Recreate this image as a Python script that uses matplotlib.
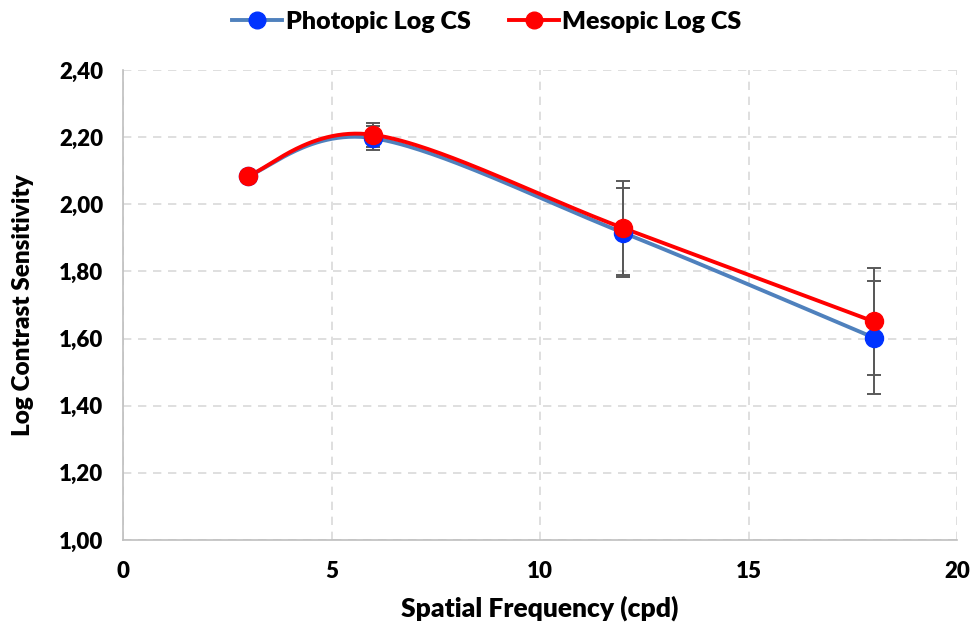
import numpy as np
import matplotlib
matplotlib.use("Agg")
import matplotlib.pyplot as plt
from matplotlib.ticker import FuncFormatter

freq = [3, 6, 12, 18]
photopic = [2.085, 2.197, 1.915, 1.603]
photopic_err = [0.0, 0.035, 0.133, 0.168]
mesopic = [2.085, 2.207, 1.929, 1.651]
mesopic_err = [0.0, 0.035, 0.140, 0.160]

x_ticks = [0, 5, 10, 15, 20]
y_ticks = [1.0, 1.2, 1.4, 1.6, 1.8, 2.0, 2.2, 2.4]

plt.rcParams['font.family'] = ['Lato', 'DejaVu Sans']
WEIGHT = 'heavy'


def smooth(xs, ys, n=60):
    P = np.column_stack([xs, ys]).astype(float)
    m = len(P)
    out = []
    for i in range(m - 1):
        pm = P[max(i - 1, 0)]
        p0 = P[i]
        p1 = P[i + 1]
        p2 = P[min(i + 2, m - 1)]
        b0 = p0
        b1 = p0 + (p1 - pm) / 6.0
        b2 = p1 - (p2 - p0) / 6.0
        b3 = p1
        t = np.linspace(0, 1, n)[:, None]
        seg = ((1 - t) ** 3) * b0 + 3 * ((1 - t) ** 2) * t * b1 + 3 * (1 - t) * t ** 2 * b2 + t ** 3 * b3
        out.append(seg if i == 0 else seg[1:])
    seg = np.vstack(out)
    return seg[:, 0], seg[:, 1]


fig = plt.figure(figsize=(9.74, 6.22), dpi=100)
ax = fig.add_axes([123 / 974, 1 - 540 / 622, (957 - 123) / 974, (540 - 70) / 622])

ax.set_xlim(0, 20)
ax.set_ylim(1.0, 2.4)
ax.set_xticks(x_ticks)
ax.set_yticks(y_ticks)
ax.yaxis.set_major_formatter(FuncFormatter(lambda v, p: f"{v:.2f}".replace('.', ',')))
ax.xaxis.set_major_formatter(FuncFormatter(lambda v, p: f"{v:g}"))

ax.grid(True, color='#d9d9d9', linestyle=(0, (5, 4)), linewidth=1.2)
ax.set_axisbelow(True)
for s in ['top', 'right']:
    ax.spines[s].set_visible(False)
for s in ['left', 'bottom']:
    ax.spines[s].set_color('#bfbfbf')
    ax.spines[s].set_linewidth(1.2)
ax.tick_params(axis='y', length=0, pad=14, labelsize=16)
ax.tick_params(axis='x', length=0, pad=15, labelsize=16)
for lab in ax.get_xticklabels() + ax.get_yticklabels():
    lab.set_fontweight(WEIGHT)

blue_line = '#4f81bd'
blue_mk = '#0033ff'
red = '#ff0000'
err_c = '#595959'

sx, sy = smooth(freq, photopic)
ax.plot(sx, sy, color=blue_line, lw=2.8, zorder=3)
sx2, sy2 = smooth(freq, mesopic)
ax.plot(sx2, sy2, color=red, lw=2.8, zorder=4)

ex = [f for f, e in zip(freq, photopic_err) if e > 0]
ax.errorbar(ex, [v for v, e in zip(photopic, photopic_err) if e > 0],
            yerr=[e for e in photopic_err if e > 0], fmt='none', ecolor=err_c,
            elinewidth=1.4, capsize=5, capthick=1.4, zorder=2)
ax.errorbar(ex, [v for v, e in zip(mesopic, mesopic_err) if e > 0],
            yerr=[e for e in mesopic_err if e > 0], fmt='none', ecolor=err_c,
            elinewidth=1.4, capsize=5, capthick=1.4, zorder=2)

ax.plot(freq, photopic, 'o', color=blue_mk, ms=13, zorder=5)
ax.plot(freq, mesopic, 'o', color=red, ms=13, zorder=6)

h1, = ax.plot([], [], '-o', color=blue_line, mfc=blue_mk, mec=blue_mk, lw=2.8, ms=12)
h2, = ax.plot([], [], '-o', color=red, mfc=red, mec=red, lw=2.8, ms=12)
fig.legend([h1, h2], ['Photopic Log CS', 'Mesopic Log CS'], loc='center',
           bbox_to_anchor=(0.5, 1 - 22 / 622), ncol=2, frameon=False,
           prop={'weight': WEIGHT, 'size': 18}, handlelength=2.0, handletextpad=0.15,
           columnspacing=1.5)

ax.set_xlabel('Spatial Frequency (cpd)', fontsize=19, fontweight=WEIGHT, labelpad=10)
ax.set_ylabel('Log Contrast Sensitivity', fontsize=17.5, fontweight=WEIGHT, labelpad=18)

fig.savefig('out.png', dpi=100)
